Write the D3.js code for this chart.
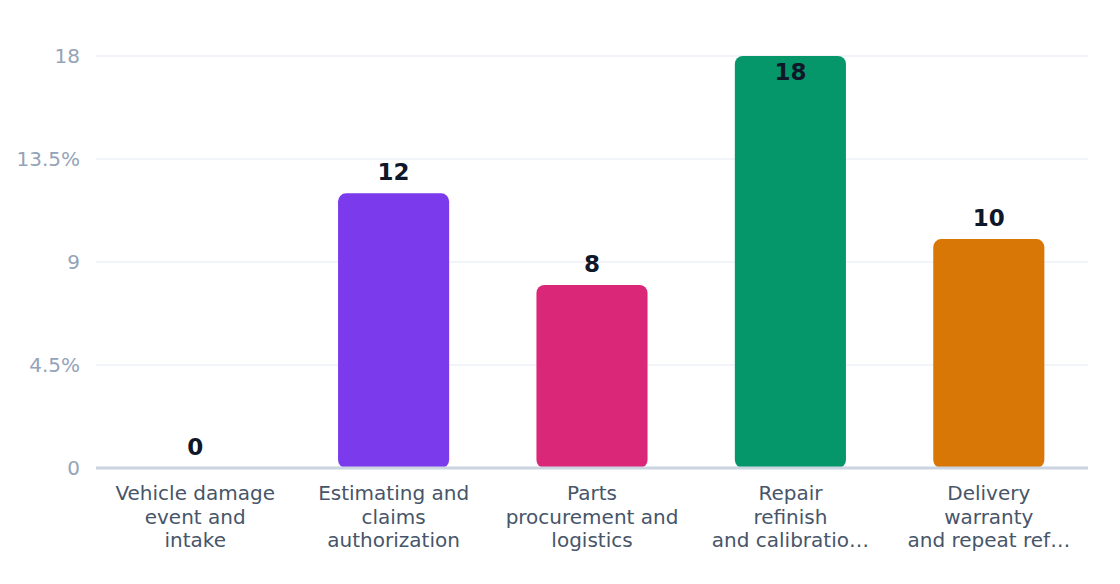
<!DOCTYPE html>
<html>
<head>
<meta charset="utf-8">
<script src="https://cdn.jsdelivr.net/npm/d3@7"></script>
<style>
  html, body { margin: 0; padding: 0; background: #fff; }
  svg { display: block; }
  svg text { font-family: "DejaVu Sans", sans-serif; }
</style>
</head>
<body>
<svg id="chart" width="1120" height="584"></svg>
<script>
// chart data
var categories = ["intake", "authorization", "parts", "repair", "delivery"];
var categoryLines = [
    ["Vehicle damage", "event and", "intake"],
    ["Estimating and", "claims", "authorization"],
    ["Parts", "procurement and", "logistics"],
    ["Repair", "refinish", "and calibratio\u2026"],
    ["Delivery", "warranty", "and repeat ref\u2026"]
];
var values = [0, 12, 8, 18, 10];
var barColors = ["#7c3aed", "#7c3aed", "#db2777", "#059669", "#d97706"];
var tickValues = [0, 4.5, 9, 13.5, 18];
var tickLabels = ["0", "4.5%", "9", "13.5%", "18"];

var margin = {top: 56, right: 32, bottom: 116, left: 96},
    width = 1120 - margin.left - margin.right,
    height = 584 - margin.top - margin.bottom;

var svg = d3.select("#chart");
var g = svg.append("g")
    .attr("transform", "translate(" + margin.left + "," + margin.top + ")");

var x = d3.scaleBand()
    .domain(categories)
    .range([0, width])
    .paddingInner(0.44)
    .paddingOuter(0.22);

var y = d3.scaleLinear()
    .domain([0, 18])
    .range([height, 0]);

// grid lines
g.append("g")
    .selectAll("line")
    .data(tickValues.slice(1))
    .enter().append("line")
    .attr("x1", 0)
    .attr("x2", width)
    .attr("y1", function(d) { return y(d); })
    .attr("y2", function(d) { return y(d); })
    .attr("stroke", "#f1f5f9")
    .attr("stroke-width", 2);

// y axis
var yAxis = g.append("g")
    .call(d3.axisLeft(y)
        .tickValues(tickValues)
        .tickSize(0)
        .tickPadding(16)
        .tickFormat(function(d, i) { return tickLabels[i]; }));
yAxis.attr("font-family", null).attr("font-size", null);
yAxis.select(".domain").remove();
yAxis.selectAll("text")
    .attr("fill", "#94a3b8")
    .style("font-size", "20px");

// bars
g.append("g")
    .selectAll("rect")
    .data(values)
    .enter().append("rect")
    .attr("x", function(d, i) { return x(categories[i]); })
    .attr("width", x.bandwidth())
    .attr("y", function(d) { return y(d); })
    .attr("height", function(d) { return height - y(d); })
    .attr("rx", 8)
    .attr("fill", function(d, i) { return barColors[i]; });

// baseline
g.append("line")
    .attr("x1", 0)
    .attr("x2", width)
    .attr("y1", y(0))
    .attr("y2", y(0))
    .attr("stroke", "#cbd5e1")
    .attr("stroke-width", 3);

// value labels
g.append("g")
    .selectAll("text")
    .data(values)
    .enter().append("text")
    .attr("x", function(d, i) { return x(categories[i]) + x.bandwidth() / 2; })
    .attr("y", function(d) {
        var ty = y(d) - 13;
        return ty < 10 ? y(d) + 24 : ty;
    })
    .attr("text-anchor", "middle")
    .attr("fill", "#0f172a")
    .style("font-size", "23px")
    .style("font-weight", "bold")
    .text(function(d) { return d; });

// category labels
var cat = g.append("g")
    .selectAll("text")
    .data(categoryLines)
    .enter().append("text")
    .attr("text-anchor", "middle")
    .attr("fill", "#475569")
    .style("font-size", "20px")
    .attr("transform", function(d, i) {
        return "translate(" + (x(categories[i]) + x.bandwidth() / 2) + "," + (height + 32) + ")";
    });
cat.selectAll("tspan")
    .data(function(d) { return d; })
    .enter().append("tspan")
    .attr("x", 0)
    .attr("y", function(d, i) { return i * 23.5; })
    .text(function(d) { return d; });
</script>
</body>
</html>
